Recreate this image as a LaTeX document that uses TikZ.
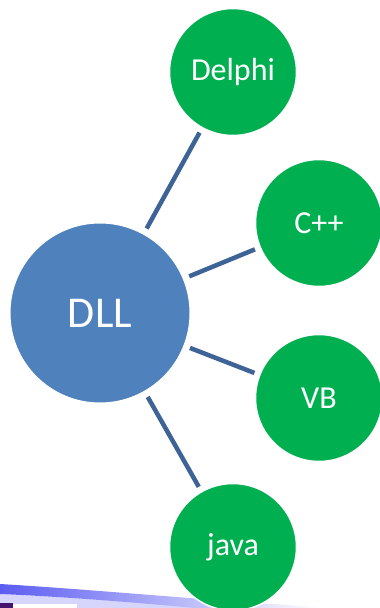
\documentclass[tikz,border=0pt]{standalone}
\usepackage{fontspec}
\setmainfont{Carlito}
\definecolor{dllblue}{RGB}{79,129,189}
\definecolor{linkblue}{RGB}{62,99,150}
\definecolor{langgreen}{RGB}{0,176,80}
\definecolor{swoosh}{RGB}{92,92,242}
\definecolor{darkpurple}{RGB}{70,20,110}
\begin{document}
\begin{tikzpicture}[x=1pt,y=-1pt,
  hub/.style={circle,fill=dllblue,draw=white,line width=1pt,minimum size=180pt,inner sep=0pt,text=white,font=\fontsize{44}{48}\selectfont},
  lang/.style={circle,fill=langgreen,draw=white,line width=1.5pt,minimum size=127pt,inner sep=0pt,text=white,font=\fontsize{32}{36}\selectfont},
  link/.style={draw=linkblue,line width=4.5pt,shorten <=6pt,shorten >=5pt}]
\useasboundingbox (0,0) rectangle (380,608);
% decorative swoosh at bottom
\fill[swoosh!25] (0,594) .. controls (80,598) and (150,603) .. (200,608) -- (0,608) -- cycle;
\shade[left color=swoosh, middle color=swoosh, right color=white]
  (0,584) .. controls (100,590) and (200,600) .. (320,607) -- (320,608) -- (195,608)
  .. controls (140,603) and (70,597) .. (0,594) -- cycle;
\fill[darkpurple] (0,603) rectangle (13,608);
\fill[white] (13,604) rectangle (77,608);
% nodes
\node[hub] (dll) at (100,313) {DLL};
\node[lang] (delphi) at (233,72) {Delphi};
\node[lang] (cpp) at (319,223) {C++};
\node[lang] (vb) at (319,398) {VB};
\node[lang] (java) at (233,547) {java};
% links
\draw[link] (dll) -- (delphi);
\draw[link] (dll) -- (cpp);
\draw[link] (dll) -- (vb);
\draw[link] (dll) -- (java);
\end{tikzpicture}
\end{document}
